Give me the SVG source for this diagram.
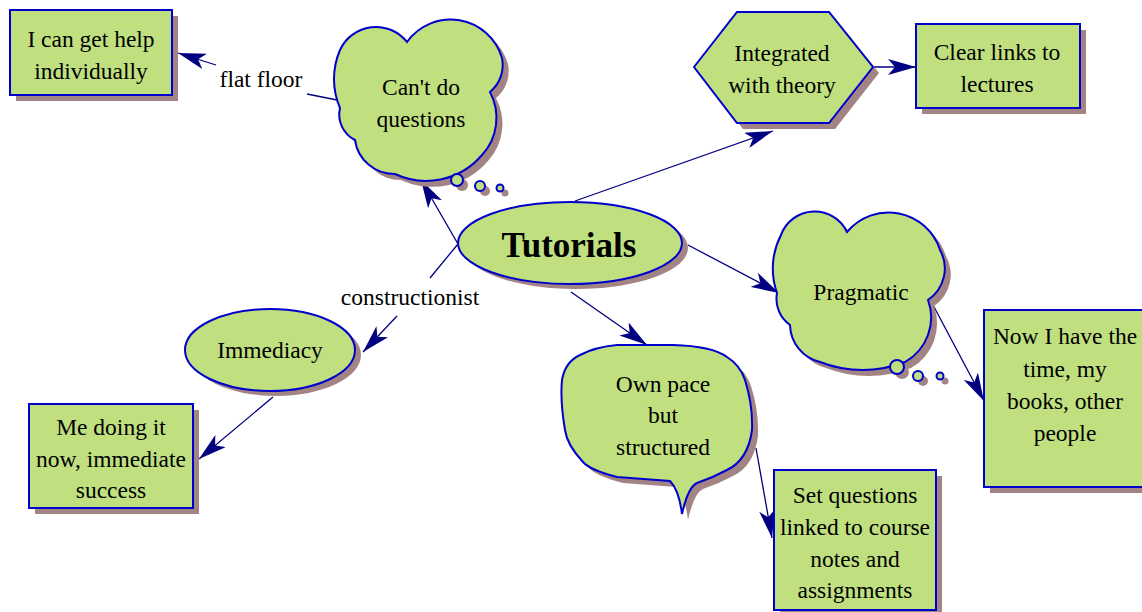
<svg xmlns="http://www.w3.org/2000/svg" xmlns:xlink="http://www.w3.org/1999/xlink" width="1142" height="612" viewBox="0 0 1142 612">
<style>
.sh{fill:#A38484;stroke:none}
.nd{fill:#C0E080;stroke:#0000CC;stroke-width:2}
.t{font-family:"Liberation Serif","Times New Roman",serif;font-size:23.5px;fill:#000;text-anchor:middle}
.tb{font-weight:bold;font-size:35px}
.c{stroke:#000080;stroke-width:1.3;fill:none}
</style>
<defs>
<marker id="ah" markerUnits="userSpaceOnUse" markerWidth="28" markerHeight="16" viewBox="0 0 28 16" refX="28" refY="8" orient="auto"><path d="M0,0 L28,8 L0,16 L7,8 z" fill="#000080"/></marker>
<rect id="s-help" x="10" y="10" width="162" height="85"/>
<path id="s-cloud1" d="M340 108 A73 73 0 0 1 340 50 A39.5 39.5 0 0 1 407 42 A53.6 53.6 0 0 1 502 58 A35 35 0 0 1 490 92 A55 55 0 0 1 482 155 A73.5 73.5 0 0 1 395 174 A39.5 39.5 0 0 1 355 140 A28.5 28.5 0 0 1 340 108 Z"/>
<g id="s-bub1"><circle cx="457" cy="180" r="6"/><circle cx="480" cy="186" r="5"/><circle cx="500" cy="188" r="3.5"/></g>
<polygon id="s-hex" points="694,67 737,12 829,12 873,67 829,123 737,123"/>
<rect id="s-clear" x="916" y="24" width="164" height="84"/>
<ellipse id="s-tut" cx="570" cy="243" rx="112" ry="41"/>
<path id="s-prag" d="M777 293 A73 73 0 0 1 781 235 A35.8 35.8 0 0 1 847 232 A54 54 0 0 1 940 250 A38 38 0 0 1 928 300 A51 51 0 0 1 905 362 A117 117 0 0 1 820 362 A39 39 0 0 1 790 325 A32 32 0 0 1 777 293 Z"/>
<g id="s-bub2"><circle cx="897" cy="367" r="7"/><circle cx="918" cy="376" r="5"/><circle cx="940" cy="376" r="3.5"/></g>
<rect id="s-now" x="984" y="310" width="170" height="177"/>
<path id="s-own" d="M617 345 L673 345 Q712 346 727 357 Q740 365 745 380 Q753 405 752 430 Q748 460 727 470 Q712 478 697 483 Q688 487 682 514 Q679 490 670 481 L617 477 Q590 470 583 462 Q567 445 565 430 Q560 400 562 380 Q565 362 580 355 Q595 347 617 345 Z"/>
<rect id="s-set" x="774" y="470" width="162" height="140"/>
<ellipse id="s-imm" cx="270" cy="350" rx="85" ry="41"/>
<rect id="s-me" x="29" y="404" width="164" height="104"/>
</defs>

<g id="connectors">
<path class="c" d="M337 100 L307 94"/>
<path class="c" d="M216 65 L178 53" marker-end="url(#ah)"/>
<path class="c" d="M458 244 L421 180" marker-end="url(#ah)"/>
<path class="c" d="M458 244 L430 278"/>
<path class="c" d="M397 316 L363 352" marker-end="url(#ah)"/>
<path class="c" d="M273 397 L199 459" marker-end="url(#ah)"/>
<path class="c" d="M575 201 L773 131" marker-end="url(#ah)"/>
<path class="c" d="M873 67 L916 67" marker-end="url(#ah)"/>
<path class="c" d="M688 245 L779 293" marker-end="url(#ah)"/>
<path class="c" d="M933 305 L984 401" marker-end="url(#ah)"/>
<path class="c" d="M571 292 L647 345" marker-end="url(#ah)"/>
<path class="c" d="M756 448 L772 538" marker-end="url(#ah)"/>
<text class="t" x="261" y="87">flat floor</text>
<text class="t" x="410" y="305">constructionist</text>
</g>

<g id="node-help">
<use xlink:href="#s-help" class="sh" transform="translate(6,6)"/>
<use xlink:href="#s-help" class="nd"/>
<text class="t" x="91" y="47">I can get help</text>
<text class="t" x="91" y="79">individually</text>
</g>

<g id="node-cantdo">
<use xlink:href="#s-cloud1" class="sh" transform="translate(6,6)"/>
<use xlink:href="#s-bub1" class="sh" transform="translate(5,5)"/>
<use xlink:href="#s-cloud1" class="nd"/>
<use xlink:href="#s-bub1" class="nd"/>
<text class="t" x="421" y="95">Can't do</text>
<text class="t" x="421" y="127">questions</text>
</g>

<g id="node-integrated">
<use xlink:href="#s-hex" class="sh" transform="translate(6,6)"/>
<use xlink:href="#s-hex" class="nd"/>
<text class="t" x="782" y="61">Integrated</text>
<text class="t" x="782" y="93">with theory</text>
</g>

<g id="node-clear">
<use xlink:href="#s-clear" class="sh" transform="translate(6,6)"/>
<use xlink:href="#s-clear" class="nd"/>
<text class="t" x="997" y="60">Clear links to</text>
<text class="t" x="997" y="92">lectures</text>
</g>

<g id="node-tutorials">
<use xlink:href="#s-tut" class="sh" transform="translate(6,5)"/>
<use xlink:href="#s-tut" class="nd"/>
<text class="t tb" x="569" y="257">Tutorials</text>
</g>

<g id="node-pragmatic">
<use xlink:href="#s-prag" class="sh" transform="translate(6,6)"/>
<use xlink:href="#s-bub2" class="sh" transform="translate(5,5)"/>
<use xlink:href="#s-prag" class="nd"/>
<use xlink:href="#s-bub2" class="nd"/>
<text class="t" x="861" y="300">Pragmatic</text>
</g>

<g id="node-now">
<use xlink:href="#s-now" class="sh" transform="translate(6,6)"/>
<use xlink:href="#s-now" class="nd"/>
<text class="t" x="1065" y="344">Now I have the</text>
<text class="t" x="1065" y="377">time, my</text>
<text class="t" x="1065" y="409">books, other</text>
<text class="t" x="1065" y="441">people</text>
</g>

<g id="node-ownpace">
<use xlink:href="#s-own" class="sh" transform="translate(6,6)"/>
<use xlink:href="#s-own" class="nd"/>
<text class="t" x="663" y="392">Own pace</text>
<text class="t" x="663" y="423">but</text>
<text class="t" x="663" y="455">structured</text>
</g>

<g id="node-set">
<use xlink:href="#s-set" class="sh" transform="translate(6,6)"/>
<use xlink:href="#s-set" class="nd"/>
<text class="t" x="855" y="503">Set questions</text>
<text class="t" x="855" y="535">linked to course</text>
<text class="t" x="855" y="567">notes and</text>
<text class="t" x="855" y="598">assignments</text>
</g>

<g id="node-immediacy">
<use xlink:href="#s-imm" class="sh" transform="translate(6,5)"/>
<use xlink:href="#s-imm" class="nd"/>
<text class="t" x="270" y="358">Immediacy</text>
</g>

<g id="node-me">
<use xlink:href="#s-me" class="sh" transform="translate(6,6)"/>
<use xlink:href="#s-me" class="nd"/>
<text class="t" x="111" y="435">Me doing it</text>
<text class="t" x="111" y="467">now, immediate</text>
<text class="t" x="111" y="498">success</text>
</g>
</svg>
